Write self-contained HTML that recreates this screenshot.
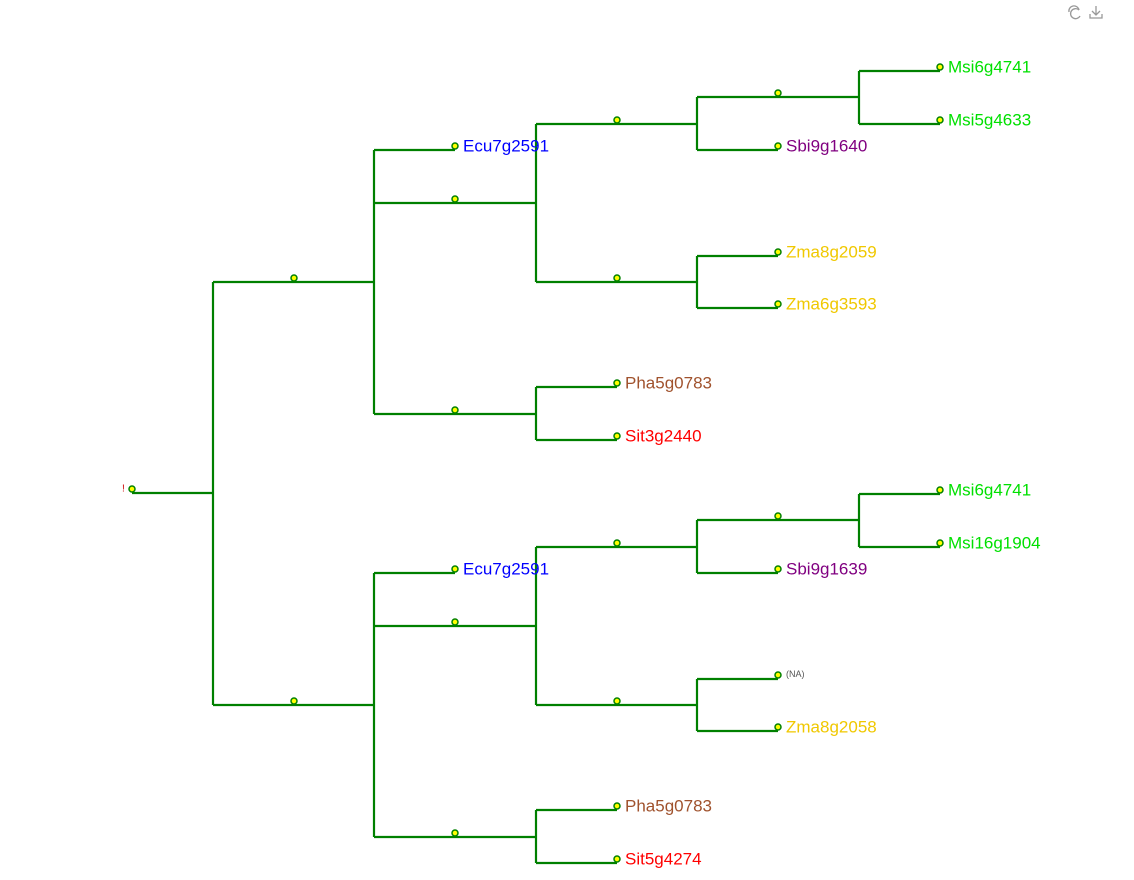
<!DOCTYPE html>
<html><head><meta charset="utf-8"><style>
html,body{margin:0;padding:0;background:#fff;width:1134px;height:880px;overflow:hidden}
text{font-family:"Liberation Sans",sans-serif;font-size:17px;dominant-baseline:central}
</style></head><body>
<svg width="1134" height="880" xmlns="http://www.w3.org/2000/svg">
<g fill="none" stroke="#999" stroke-width="1.3">
<path d="M1079 10 a5 5 0 1 0 1 6"/><path d="M1069 12 a5 5 0 0 1 10 -2"/>
<path d="M1096 6 v8 M1092 11 l4 4 l4 -4 M1090 14 v4 h12 v-4"/>
</g>
<g stroke="#008000" stroke-width="2.2" fill="none">
<path d="M213 282 H374 M374 150 V414 M374 150 H455 M374 203 H536 M536 124 V282 M536 124 H697 M697 97 V150 M697 97 H859 M859 71 V124 M859 71 H940 M859 124 H940 M697 150 H778 M536 282 H697 M697 256 V308 M697 256 H778 M697 308 H778 M374 414 H536 M536 387 V440 M536 387 H617 M536 440 H617"/>
</g>
<g stroke="#008000" stroke-width="2.2" fill="none">
<path d="M213 705 H374 M374 573 V837 M374 573 H455 M374 626 H536 M536 547 V705 M536 547 H697 M697 520 V573 M697 520 H859 M859 494 V547 M859 494 H940 M859 547 H940 M697 573 H778 M536 705 H697 M697 679 V731 M697 679 H778 M697 731 H778 M374 837 H536 M536 810 V863 M536 810 H617 M536 863 H617"/>
<path d="M132 493 H213 M213 282 V705"/>
</g>
<g fill="#ffff00" stroke="#008000" stroke-width="1.5">
<circle cx="132" cy="489" r="3"/>
<circle cx="294" cy="278" r="3"/><circle cx="455" cy="146" r="3"/><circle cx="455" cy="199" r="3"/>
<circle cx="617" cy="120" r="3"/><circle cx="778" cy="93" r="3"/><circle cx="940" cy="67" r="3"/><circle cx="940" cy="120" r="3"/>
<circle cx="778" cy="146" r="3"/><circle cx="617" cy="278" r="3"/><circle cx="778" cy="252" r="3"/><circle cx="778" cy="304" r="3"/>
<circle cx="455" cy="410" r="3"/><circle cx="617" cy="383" r="3"/><circle cx="617" cy="436" r="3"/>
<circle cx="294" cy="701" r="3"/><circle cx="455" cy="569" r="3"/><circle cx="455" cy="622" r="3"/>
<circle cx="617" cy="543" r="3"/><circle cx="778" cy="516" r="3"/><circle cx="940" cy="490" r="3"/><circle cx="940" cy="543" r="3"/>
<circle cx="778" cy="569" r="3"/><circle cx="617" cy="701" r="3"/><circle cx="778" cy="675" r="3"/><circle cx="778" cy="727" r="3"/>
<circle cx="455" cy="833" r="3"/><circle cx="617" cy="806" r="3"/><circle cx="617" cy="859" r="3"/>
</g>
<text x="122" y="489" fill="#c00" style="font-size:10px">!</text>
<text x="463" y="146" fill="#0000ff">Ecu7g2591</text>
<text x="948" y="67" fill="#00e000">Msi6g4741</text>
<text x="948" y="120" fill="#00e000">Msi5g4633</text>
<text x="786" y="146" fill="#800080">Sbi9g1640</text>
<text x="786" y="252" fill="#f0c800">Zma8g2059</text>
<text x="786" y="304" fill="#f0c800">Zma6g3593</text>
<text x="625" y="383" fill="#a0522d">Pha5g0783</text>
<text x="625" y="436" fill="#ff0000">Sit3g2440</text>
<text x="463" y="569" fill="#0000ff">Ecu7g2591</text>
<text x="948" y="490" fill="#00e000">Msi6g4741</text>
<text x="948" y="543" fill="#00e000">Msi16g1904</text>
<text x="786" y="569" fill="#800080">Sbi9g1639</text>
<text x="786" y="674" fill="#555" style="font-size:9px">(NA)</text>
<text x="786" y="727" fill="#f0c800">Zma8g2058</text>
<text x="625" y="806" fill="#a0522d">Pha5g0783</text>
<text x="625" y="859" fill="#ff0000">Sit5g4274</text>
</svg>
</body></html>
